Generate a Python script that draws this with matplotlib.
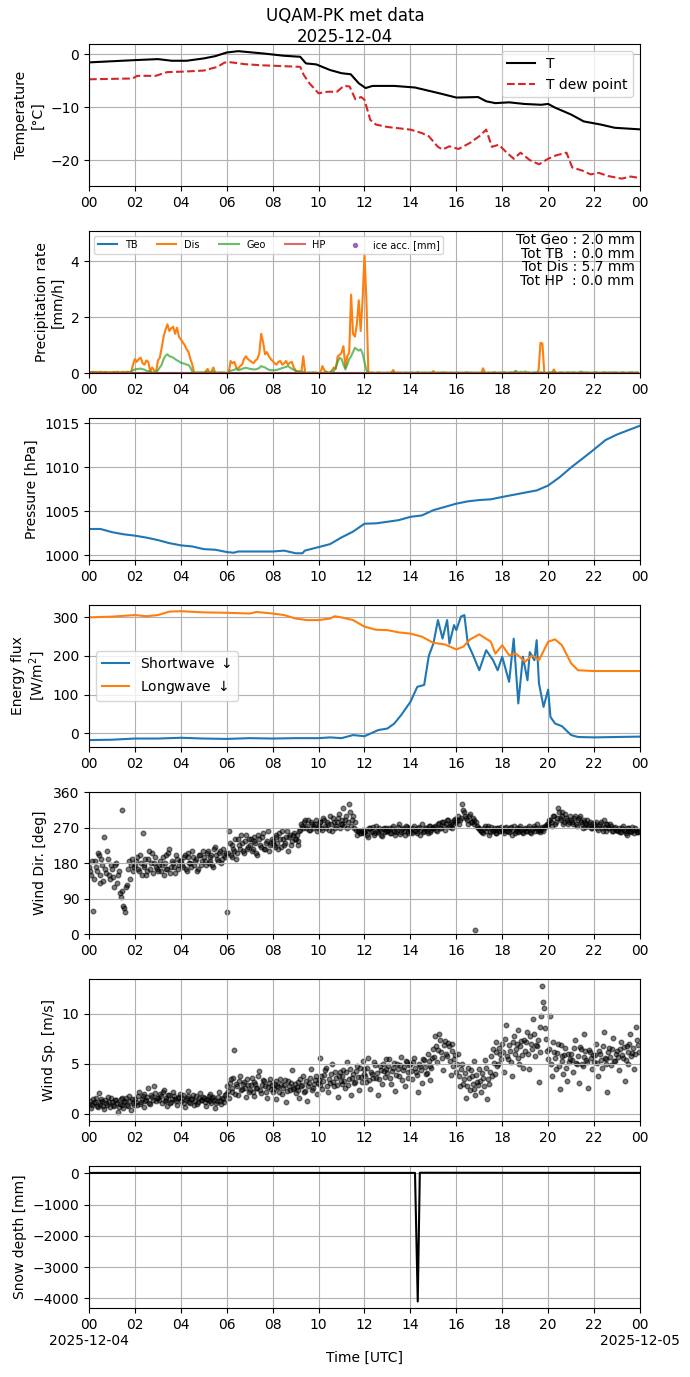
import numpy as np
import matplotlib.pyplot as plt

# ---- data (hours UTC on 2025-12-04) ----
t_temp = [0, 2, 3, 3.6, 4.25, 5, 5.5, 6, 6.5, 7.6, 8.5, 9.2, 9.45, 9.9, 10.5, 11, 11.4, 11.75,
          12.05, 12.35, 13.3, 14.2, 15.27, 16.0, 16.95, 17.3, 17.7, 18.3, 18.95, 19.7, 20.0,
          20.3, 21.0, 21.55, 22.3, 22.9, 24]
temp = [-1.56, -1.13, -0.94, -1.25, -1.25, -0.81, -0.38, 0.31, 0.56, 0.12, -0.31, -0.5, -1.75,
        -1.94, -3.0, -3.6, -3.8, -5.5, -6.4, -6.0, -6.0, -6.3, -7.4, -8.2, -8.1, -8.9, -9.25,
        -9.1, -9.4, -9.56, -9.4, -10.1, -11.4, -12.7, -13.3, -13.9, -14.2]

t_dew = [0, 1.9, 2.1, 2.9, 3.4, 4.1, 5, 5.6, 5.9, 6.1, 6.8, 7.5, 9.2, 9.35, 9.6, 10.0, 10.4,
         10.8, 11.1, 11.35, 11.6, 11.85, 12.0, 12.25, 12.5, 13.0, 14.0, 14.5, 14.8, 15.2, 15.4,
         15.7, 16.1, 16.6, 17.0, 17.3, 17.55, 17.85, 18.2, 18.5, 18.8, 19.2, 19.6, 20.0, 20.35,
         20.8, 21.05, 21.5, 21.85, 22.2, 22.6, 23.2, 23.6, 24]
dew = [-4.75, -4.6, -4.1, -4.1, -3.4, -3.3, -3.1, -2.4, -1.6, -1.5, -1.9, -2.1, -2.4, -3.9,
       -5.5, -7.4, -7.1, -7.1, -6.0, -6.1, -8.5, -8.1, -8.6, -12.4, -13.3, -13.75, -14.25,
       -14.9, -15.5, -17.5, -18.0, -17.4, -17.9, -16.75, -15.5, -14.25, -17.5, -17.1, -18.6,
       -19.75, -18.6, -20.0, -20.8, -19.75, -19.1, -18.6, -21.4, -22.0, -22.7, -22.4, -23.0,
       -23.5, -23.1, -23.4]

# precipitation rate, 5-minute values, one row per hour
dis_rate = [
    0.02, 0.03, 0.05, 0.02, 0.04, 0.03, 0.05, 0.02, 0.03, 0.04, 0.02, 0.03,
    0.02, 0.04, 0.03, 0.05, 0.02, 0.03, 0.04, 0.02, 0.05, 0.03, 0.02, 0.3,
    0.5, 0.4, 0.5, 0.55, 0.35, 0.3, 0.45, 0.4, 0.05, 0.2, 0.1, 0.0,
    0.45, 0.55, 0.9, 1.3, 1.55, 1.74, 1.5, 1.6, 1.65, 1.4, 1.62, 1.3,
    1.2, 1.1, 1.0, 0.85, 0.75, 0.5, 0.3, 0.0, 0.02, 0.01, 0.02, 0.01,
    0.0, 0.05, 0.15, 0.0, 0.05, 0.2, 0.0, 0.01, 0.0, 0.02, 0.0, 0.01,
    0.0, 0.0, 0.43, 0.35, 0.4, 0.2, 0.15, 0.25, 0.3, 0.5, 0.6, 0.5,
    0.45, 0.4, 0.35, 0.45, 0.5, 0.7, 1.4, 1.1, 0.67, 0.75, 0.6, 0.5,
    0.43, 0.35, 0.3, 0.4, 0.43, 0.3, 0.35, 0.43, 0.3, 0.37, 0.4, 0.2,
    0.1, 0.05, 0.07, 0.02, 0.6, 0.0, 0.0, 0.01, 0.0, 0.02, 0.0, 0.01,
    0.0, 0.02, 0.25, 0.1, 0.05, 0.0, 0.0, 0.1, 0.2, 0.15, 0.6, 0.65,
    0.72, 0.96, 0.2, 0.6, 0.72, 2.8, 1.4, 1.3, 1.74, 2.6, 1.5, 2.6,
    4.24, 2.6, 0.05, 0.0, 0.01, 0.0, 0.0, 0.02, 0.0, 0.0, 0.01, 0.0,
    0.0, 0.0, 0.01, 0.11, 0.0, 0.0, 0.01, 0.0, 0.0, 0.0, 0.01, 0.0,
    0.0, 0.01, 0.0, 0.0, 0.02, 0.0, 0.0, 0.01, 0.0, 0.0, 0.0, 0.01,
    0.07, 0.0, 0.0, 0.01, 0.0, 0.0, 0.02, 0.0, 0.0, 0.01, 0.0, 0.0,
    0.0, 0.0, 0.01, 0.0, 0.0, 0.02, 0.0, 0.0, 0.01, 0.0, 0.0, 0.0,
    0.0, 0.0, 0.17, 0.0, 0.0, 0.01, 0.0, 0.0, 0.02, 0.0, 0.0, 0.01,
    0.0, 0.01, 0.0, 0.0, 0.02, 0.0, 0.0, 0.07, 0.0, 0.01, 0.0, 0.0,
    0.0, 0.0, 0.01, 0.0, 0.0, 0.0, 0.0, 0.1, 1.08, 1.05, 0.0, 0.0,
    0.0, 0.01, 0.0, 0.13, 0.0, 0.0, 0.01, 0.0, 0.0, 0.0, 0.02, 0.0,
    0.0, 0.0, 0.01, 0.0, 0.0, 0.02, 0.0, 0.0, 0.0, 0.01, 0.0, 0.0,
    0.0, 0.01, 0.0, 0.0, 0.0, 0.0, 0.02, 0.0, 0.0, 0.0, 0.01, 0.0,
    0.0, 0.0, 0.0, 0.01, 0.0, 0.0, 0.0, 0.0, 0.02, 0.0, 0.0, 0.0,
]
geo_rate = [
    0.02, 0.01, 0.02, 0.03, 0.02, 0.01, 0.02, 0.02, 0.03, 0.02, 0.01, 0.02,
    0.02, 0.03, 0.02, 0.02, 0.01, 0.02, 0.03, 0.02, 0.02, 0.03, 0.05, 0.1,
    0.13, 0.14, 0.15, 0.16, 0.14, 0.12, 0.08, 0.07, 0.05, 0.03, 0.02, 0.02,
    0.1, 0.2, 0.3, 0.5, 0.62, 0.67, 0.6, 0.58, 0.55, 0.5, 0.45, 0.42,
    0.37, 0.35, 0.33, 0.3, 0.29, 0.2, 0.05, 0.0, 0.01, 0.02, 0.01, 0.02,
    0.02, 0.05, 0.04, 0.02, 0.03, 0.05, 0.02, 0.01, 0.02, 0.01, 0.02, 0.01,
    0.0, 0.02, 0.08, 0.1, 0.12, 0.15, 0.1, 0.12, 0.15, 0.17, 0.19, 0.17,
    0.15, 0.14, 0.13, 0.13, 0.15, 0.18, 0.25, 0.22, 0.2, 0.15, 0.12, 0.1,
    0.1, 0.1, 0.11, 0.13, 0.15, 0.18, 0.2, 0.22, 0.25, 0.2, 0.15, 0.12,
    0.07, 0.05, 0.05, 0.03, 0.05, 0.0, 0.01, 0.02, 0.01, 0.01, 0.02, 0.01,
    0.0, 0.0, 0.0, 0.02, 0.03, 0.02, 0.03, 0.05, 0.07, 0.2, 0.4, 0.55,
    0.5, 0.3, 0.13, 0.3, 0.5, 0.6, 0.75, 0.9, 0.85, 0.8, 0.85, 0.7,
    0.4, 0.1, 0.0, 0.01, 0.02, 0.01, 0.0, 0.01, 0.02, 0.01, 0.0, 0.01,
    0.02, 0.01, 0.02, 0.03, 0.01, 0.02, 0.01, 0.02, 0.01, 0.02, 0.01, 0.02,
    0.01, 0.02, 0.01, 0.02, 0.03, 0.01, 0.02, 0.01, 0.02, 0.01, 0.02, 0.01,
    0.02, 0.01, 0.02, 0.01, 0.02, 0.03, 0.01, 0.02, 0.01, 0.02, 0.01, 0.02,
    0.01, 0.02, 0.01, 0.02, 0.01, 0.02, 0.03, 0.01, 0.02, 0.01, 0.02, 0.01,
    0.02, 0.01, 0.03, 0.02, 0.01, 0.02, 0.01, 0.02, 0.03, 0.01, 0.02, 0.01,
    0.02, 0.03, 0.02, 0.01, 0.02, 0.03, 0.02, 0.07, 0.03, 0.02, 0.05, 0.02,
    0.06, 0.03, 0.02, 0.01, 0.02, 0.03, 0.02, 0.01, 0.03, 0.02, 0.02, 0.01,
    0.02, 0.03, 0.02, 0.03, 0.02, 0.01, 0.02, 0.03, 0.02, 0.01, 0.02, 0.03,
    0.02, 0.03, 0.02, 0.01, 0.02, 0.05, 0.04, 0.02, 0.03, 0.02, 0.01, 0.02,
    0.02, 0.03, 0.02, 0.01, 0.02, 0.03, 0.02, 0.01, 0.03, 0.02, 0.02, 0.03,
    0.02, 0.01, 0.02, 0.03, 0.02, 0.01, 0.02, 0.03, 0.02, 0.01, 0.03, 0.02,
]
tot_geo, tot_tb, tot_dis, tot_hp = 2.0, 0.0, 5.7, 0.0

t_pres = [0, 0.5, 1, 1.5, 2, 2.5, 3, 3.5, 4, 4.5, 5, 5.5, 6, 6.3, 6.5, 7, 8, 8.5, 9, 9.3, 9.4,
          10, 10.5, 11, 11.5, 12, 12.5, 13, 13.5, 14, 14.5, 15, 15.5, 16, 16.5, 17, 17.5, 18,
          18.5, 19, 19.5, 20, 20.5, 21, 21.5, 22, 22.5, 23, 23.5, 24]
pres = [1002.96, 1002.96, 1002.6, 1002.36, 1002.2, 1001.98, 1001.7, 1001.35, 1001.1, 1000.97,
        1000.67, 1000.6, 1000.34, 1000.26, 1000.4, 1000.4, 1000.4, 1000.5, 1000.2, 1000.2,
        1000.5, 1000.9, 1001.24, 1002.0, 1002.66, 1003.56, 1003.6, 1003.78, 1003.97, 1004.34,
        1004.5, 1005.1, 1005.47, 1005.84, 1006.1, 1006.25, 1006.33, 1006.6, 1006.85, 1007.1,
        1007.34, 1007.9, 1008.84, 1009.96, 1010.97, 1012.0, 1013.07, 1013.7, 1014.2, 1014.7]

t_lw = [0, 1, 2, 2.5, 3, 3.5, 4, 5, 6, 7, 7.3, 8, 8.5, 9, 9.5, 10, 10.5, 10.7, 11, 11.5, 12,
        12.5, 13, 13.5, 14, 14.5, 15, 15.5, 16, 16.3, 16.6, 17, 17.5, 17.7, 18, 18.3, 18.6, 19,
        19.3, 19.6, 20, 20.3, 20.6, 21, 21.3, 22, 23, 24]
lw = [300, 302, 306, 303, 306, 315, 316, 313, 312, 310, 314, 310, 306, 297, 293, 293, 297, 303,
      300, 293, 276, 268, 267, 261, 258, 250, 234, 230, 217, 224, 243, 256, 237, 206, 228, 202,
      206, 185, 202, 189, 237, 243, 228, 181, 163, 161, 161, 161]

t_sw = [0, 1, 2, 3, 4, 5, 6, 7, 8, 9, 10, 10.5, 11, 11.5, 12, 12.3, 12.6, 13, 13.3, 13.6, 14,
        14.3, 14.6, 14.8, 15, 15.2, 15.4, 15.6, 15.7, 15.9, 16, 16.2, 16.35, 16.5, 16.7, 17,
        17.3, 17.6, 17.8, 18, 18.3, 18.5, 18.7, 18.9, 19.1, 19.2, 19.4, 19.5, 19.6, 19.8, 20,
        20.1, 20.3, 20.6, 21, 21.3, 22, 23, 24]
sw = [-18, -17, -14, -14, -12, -14, -15, -13, -14, -13, -13, -11, -13, -5, -8, 0, 8, 12, 25, 47,
      81, 120, 125, 200, 232, 293, 245, 293, 232, 280, 267, 302, 306, 232, 206, 163, 215, 189,
      163, 198, 133, 245, 77, 198, 137, 210, 189, 241, 129, 68, 113, 42, 25, 18, -5, -10, -11,
      -10, -9]

# wind, 5-minute values (one row per hour), plus a second set offset by 2.5 minutes
wind_dir = [
    170, 150, 58, 185, 160, 200, 130, 175, 245, 155, 190, 140,
    165, 120, 180, 150, 105, 315, 70, 55, 125, 185, 175, 160,
    175, 195, 160, 180, 255, 170, 150, 190, 165, 205, 180, 170,
    160, 185, 175, 150, 200, 165, 215, 170, 180, 155, 190, 175,
    185, 170, 200, 160, 195, 180, 210, 175, 190, 165, 200, 185,
    195, 175, 210, 185, 200, 170, 220, 190, 205, 180, 215, 195,
    57, 260, 200, 225, 210, 190, 240, 215, 230, 205, 250, 220,
    225, 210, 245, 230, 200, 240, 220, 255, 215, 235, 210, 230,
    235, 220, 250, 215, 240, 260, 225, 245, 210, 250, 235, 255,
    240, 225, 260, 280, 270, 290, 275, 265, 285, 270, 280, 260,
    275, 285, 265, 290, 270, 280, 300, 260, 285, 275, 295, 270,
    280, 320, 290, 270, 330, 275, 300, 285, 250, 260, 255, 265,
    255, 265, 245, 270, 260, 250, 275, 258, 265, 248, 270, 262,
    260, 270, 255, 275, 250, 265, 280, 258, 268, 252, 272, 262,
    265, 255, 275, 260, 270, 250, 280, 262, 268, 256, 275, 265,
    268, 275, 260, 282, 270, 285, 265, 290, 275, 280, 270, 288,
    285, 300, 290, 330, 310, 295, 280, 305, 285, 290, 10, 275,
    270, 262, 255, 275, 268, 250, 272, 260, 265, 255, 270, 262,
    265, 255, 272, 260, 268, 250, 275, 262, 258, 270, 264, 256,
    268, 260, 275, 255, 270, 262, 278, 265, 258, 272, 268, 275,
    280, 290, 275, 300, 285, 320, 295, 310, 280, 305, 290, 285,
    290, 280, 300, 275, 295, 285, 270, 290, 280, 275, 285, 270,
    275, 285, 265, 280, 270, 290, 262, 278, 268, 275, 260, 272,
    265, 270, 258, 275, 262, 250, 268, 260, 272, 255, 265, 258,
]
wind_dir_b = [
    160, 185, 140, 170, 205, 150, 190, 135, 165, 210, 150, 175,
    145, 175, 130, 160, 95, 110, 65, 120, 165, 140, 190, 170,
    185, 165, 200, 150, 175, 190, 160, 210, 180, 155, 195, 165,
    175, 160, 195, 180, 165, 205, 155, 185, 170, 200, 165, 185,
    175, 195, 165, 205, 180, 170, 195, 185, 160, 200, 175, 210,
    185, 205, 180, 195, 175, 215, 200, 185, 210, 190, 200, 205,
    205, 230, 195, 215, 240, 205, 225, 250, 210, 235, 215, 240,
    240, 215, 235, 205, 250, 225, 245, 215, 230, 260, 225, 240,
    225, 245, 230, 255, 220, 240, 230, 260, 245, 225, 250, 240,
    250, 235, 265, 275, 285, 270, 290, 265, 280, 275, 290, 270,
    285, 270, 295, 275, 285, 265, 280, 295, 270, 285, 305, 280,
    290, 275, 300, 285, 310, 290, 270, 265, 260, 255, 262, 258,
    262, 250, 268, 258, 272, 255, 262, 270, 252, 266, 258, 270,
    265, 255, 270, 262, 258, 272, 254, 266, 260, 275, 256, 268,
    258, 270, 262, 255, 272, 265, 258, 270, 262, 275, 258, 268,
    272, 265, 278, 270, 285, 275, 280, 290, 272, 285, 278, 292,
    290, 280, 295, 315, 300, 290, 300, 285, 295, 280, 285, 270,
    265, 258, 270, 262, 275, 258, 265, 270, 255, 268, 260, 272,
    260, 270, 262, 258, 272, 265, 255, 268, 262, 275, 258, 266,
    262, 270, 258, 265, 275, 268, 260, 270, 264, 262, 275, 280,
    290, 285, 300, 280, 295, 310, 290, 300, 285, 295, 280, 300,
    285, 295, 278, 290, 300, 280, 285, 272, 290, 280, 268, 282,
    280, 268, 275, 285, 262, 272, 280, 268, 278, 262, 270, 265,
    262, 258, 270, 265, 255, 268, 262, 258, 265, 270, 258, 262,
]
wind_spd = [
    1.0, 0.6, 1.5, 1.2, 0.8, 2.1, 0.9, 1.3, 0.5, 1.1, 1.7, 0.7,
    1.2, 0.8, 1.4, 0.2, 1.0, 1.6, 0.6, 1.3, 0.9, 1.8, 0.4, 1.1,
    1.5, 0.9, 2.2, 1.2, 1.8, 0.7, 1.4, 2.6, 1.0, 1.7, 2.8, 1.3,
    1.6, 2.0, 1.1, 2.4, 1.4, 0.8, 1.9, 1.2, 2.2, 1.5, 0.9, 1.7,
    1.3, 1.9, 0.7, 1.6, 2.3, 1.1, 1.5, 0.9, 1.8, 1.2, 2.1, 1.4,
    1.6, 0.8, 1.4, 2.0, 1.1, 1.7, 0.6, 1.3, 2.2, 1.0, 1.5, 1.9,
    2.8, 1.6, 3.5, 2.2, 6.4, 3.0, 1.9, 3.8, 2.5, 3.2, 1.7, 2.9,
    2.4, 3.6, 1.8, 3.0, 2.6, 4.3, 2.1, 3.4, 2.8, 1.6, 3.1, 2.5,
    2.2, 3.0, 1.5, 2.7, 3.5, 2.0, 2.9, 1.2, 3.3, 2.4, 4.4, 2.6,
    2.1, 3.2, 1.6, 2.8, 3.8, 2.3, 1.3, 3.1, 4.5, 2.6, 3.4, 2.0,
    3.4, 5.6, 2.5, 3.9, 4.6, 2.2, 3.1, 5.0, 2.8, 3.6, 1.7, 4.2,
    3.0, 4.4, 2.6, 5.2, 3.5, 1.9, 4.0, 3.2, 4.8, 2.4, 3.7, 5.3,
    4.5, 3.2, 5.6, 2.5, 4.0, 5.2, 3.6, 1.9, 4.8, 3.0, 4.3, 5.5,
    4.1, 5.5, 3.0, 4.6, 2.3, 5.0, 3.8, 5.7, 4.4, 2.8, 5.2, 3.6,
    5.0, 3.5, 5.6, 4.2, 2.2, 4.8, 3.1, 5.4, 4.0, 6.0, 3.4, 4.6,
    6.5, 7.8, 5.2, 8.0, 6.2, 4.4, 7.3, 5.8, 6.8, 3.9, 7.0, 5.5,
    4.2, 6.0, 2.8, 5.0, 3.5, 1.6, 4.6, 2.4, 3.8, 5.3, 1.9, 3.2,
    4.5, 2.2, 3.6, 5.4, 1.5, 3.0, 5.8, 6.5, 4.0, 7.2, 5.0, 6.0,
    7.0, 4.2, 8.9, 5.5, 6.3, 3.8, 7.8, 6.5, 8.4, 5.0, 7.3, 4.6,
    6.3, 8.2, 4.5, 7.0, 9.5, 5.8, 6.8, 3.2, 8.7, 12.8, 10.6, 7.5,
    5.5, 9.8, 3.8, 6.2, 4.5, 7.0, 2.5, 5.8, 4.0, 6.6, 3.3, 5.2,
    6.0, 4.2, 7.4, 5.0, 3.1, 6.5, 4.8, 8.0, 5.4, 2.6, 6.2, 4.5,
    5.2, 7.0, 3.8, 6.0, 4.6, 8.2, 5.5, 2.2, 6.6, 4.9, 7.6, 5.3,
    6.3, 4.4, 7.2, 5.6, 3.3, 6.8, 5.0, 8.0, 6.1, 4.5, 8.7, 6.9,
]
wind_spd_b = [
    1.3, 0.9, 1.1, 1.6, 0.7, 1.2, 1.5, 0.8, 1.4, 0.9, 1.2, 1.6,
    0.9, 1.4, 1.1, 0.7, 1.5, 0.9, 1.2, 1.6, 0.8, 1.3, 1.5, 0.9,
    1.2, 1.8, 1.0, 1.5, 2.0, 1.3, 1.7, 1.1, 1.9, 1.4, 2.1, 1.6,
    1.4, 1.8, 2.2, 1.3, 1.6, 1.9, 1.1, 1.5, 1.8, 1.3, 1.6, 2.0,
    1.6, 1.1, 1.4, 1.8, 1.2, 1.5, 1.9, 1.3, 1.0, 1.6, 1.4, 1.7,
    1.2, 1.5, 1.8, 1.3, 1.6, 1.4, 1.1, 1.7, 1.3, 1.6, 1.2, 2.0,
    2.3, 3.1, 2.6, 3.6, 2.0, 2.8, 3.3, 2.4, 3.0, 2.6, 3.5, 2.2,
    2.9, 2.2, 3.2, 2.6, 3.8, 2.4, 2.9, 3.3, 2.2, 2.7, 3.5, 2.9,
    2.5, 3.3, 2.8, 2.2, 3.0, 2.6, 3.4, 2.3, 2.8, 3.1, 2.5, 3.0,
    2.7, 2.4, 3.5, 2.9, 2.2, 3.3, 2.8, 3.6, 2.4, 3.0, 3.8, 3.1,
    2.9, 3.8, 3.3, 4.4, 2.8, 3.5, 4.0, 3.2, 4.2, 2.9, 3.8, 3.3,
    3.8, 3.3, 4.2, 2.9, 4.5, 3.6, 3.1, 4.3, 3.7, 4.6, 3.2, 4.0,
    3.8, 4.6, 3.4, 4.2, 3.6, 4.9, 4.1, 3.5, 4.4, 5.0, 3.7, 4.5,
    4.8, 3.6, 4.3, 5.1, 3.9, 4.5, 4.9, 3.4, 4.7, 5.3, 4.2, 4.9,
    4.3, 5.2, 4.6, 3.9, 5.0, 4.4, 5.5, 4.7, 4.1, 5.3, 4.8, 5.6,
    5.7, 6.8, 6.4, 7.4, 5.6, 6.9, 6.0, 7.1, 5.3, 6.3, 4.8, 5.9,
    5.0, 3.8, 4.5, 3.0, 4.1, 2.8, 3.6, 4.4, 3.0, 2.5, 3.9, 2.9,
    3.3, 4.1, 2.8, 4.6, 3.5, 4.2, 3.8, 5.1, 6.2, 4.8, 6.6, 5.5,
    6.2, 7.5, 5.8, 6.9, 5.2, 7.2, 6.0, 7.0, 5.6, 6.8, 5.9, 7.4,
    7.2, 6.0, 7.8, 6.5, 8.0, 6.9, 7.4, 6.2, 9.8, 11.2, 8.6, 6.3,
    6.5, 5.0, 7.2, 5.6, 6.1, 4.8, 6.9, 5.3, 5.9, 4.6, 6.0, 5.5,
    5.4, 6.6, 5.1, 5.8, 6.7, 5.0, 5.7, 6.3, 5.2, 6.4, 5.6, 5.9,
    5.9, 5.1, 6.3, 5.4, 6.8, 5.6, 5.0, 6.2, 5.7, 6.5, 5.3, 6.0,
    5.7, 6.5, 5.9, 6.7, 5.4, 6.2, 7.0, 5.8, 6.6, 6.0, 7.4, 6.2,
]

t_snow = [0, 14.2, 14.32, 14.41, 24]
snow = [15, 15, -4100, 20, 15]

hour_ticks = list(range(0, 25, 2))
hour_labels = ['%02d' % (h % 24) for h in hour_ticks]
date_labels = ['2025-12-04', '2025-12-05']

t5 = np.arange(len(dis_rate)) * 5 / 60.0
t5b = t5 + 2.5 / 60.0

# ---- figure ----
fig, axes = plt.subplots(7, 1, figsize=(6.9, 13.77), dpi=100)
fig.subplots_adjust(left=0.129, right=0.9275, top=0.968, bottom=0.0501, hspace=0.317)
fig.suptitle('UQAM-PK met data\n2025-12-04', fontsize=12, y=0.995)

ax = axes[0]
ax.plot(t_temp, temp, color='k', label='T')
ax.plot(t_dew, dew, color='tab:red', ls='--', label='T dew point')
ax.set_ylabel('Temperature\n[°C]')
ax.set_ylim(-24.9, 1.9)
ax.legend(loc='upper right')

ax = axes[1]
ax.plot(t5, np.zeros(len(t5)), color='tab:blue', label='TB')
ax.plot(t5, dis_rate, color='tab:orange', label='Dis')
ax.plot(t5, geo_rate, color='tab:green', alpha=0.7, label='Geo')
ax.plot(t5, np.zeros(len(t5)), color='tab:red', alpha=0.7, label='HP')
ax.scatter([], [], color='tab:purple', s=8, label='ice acc. [mm]')
ax.set_ylabel('Precipitation rate\n[mm/h]')
ax.set_ylim(0, 5.07)
ax.legend(loc='upper left', ncol=5, fontsize=7)
ax.text(0.99, 0.985,
        'Tot Geo : %.1f mm\nTot TB  : %.1f mm\nTot Dis : %.1f mm\nTot HP  : %.1f mm'
        % (tot_geo, tot_tb, tot_dis, tot_hp),
        transform=ax.transAxes, ha='right', va='top', fontsize=10, linespacing=0.95)

ax = axes[2]
ax.plot(t_pres, pres, color='tab:blue')
ax.set_ylabel('Pressure [hPa]')
ax.set_ylim(999.43, 1015.57)

ax = axes[3]
ax.plot(t_sw, sw, color='tab:blue', label='Shortwave $\\downarrow$')
ax.plot(t_lw, lw, color='tab:orange', label='Longwave $\\downarrow$')
ax.set_ylabel('Energy flux\n[W/m$^2$]')
ax.set_ylim(-36, 332)
ax.legend(loc='center left')

ax = axes[4]
ax.scatter(t5, wind_dir, color='k', alpha=0.5, s=11)
ax.scatter(t5b, wind_dir_b, color='k', alpha=0.5, s=11)
ax.set_ylabel('Wind Dir. [deg]')
ax.set_ylim(0, 360)
ax.set_yticks([0, 90, 180, 270, 360])

ax = axes[5]
ax.scatter(t5, wind_spd, color='k', alpha=0.5, s=11)
ax.scatter(t5b, wind_spd_b, color='k', alpha=0.5, s=11)
ax.set_ylabel('Wind Sp. [m/s]')
ax.set_ylim(-0.7, 13.45)

ax = axes[6]
ax.plot(t_snow, snow, color='k')
ax.set_ylabel('Snow depth [mm]')
ax.set_ylim(-4310, 235)
ax.set_xlabel('Time [UTC]', labelpad=14)

for ax in axes:
    ax.set_xlim(0, 24)
    ax.set_xticks(hour_ticks)
    ax.set_xticklabels(hour_labels)
    ax.grid(True)

# date under first and last tick of the bottom panel
ax = axes[6]
for xpos, lab in zip([0, 24], date_labels):
    ax.annotate(lab, xy=(xpos, 0), xycoords=('data', 'axes fraction'),
                xytext=(0, -19), textcoords='offset points', ha='center', va='top',
                fontsize=10, annotation_clip=False)

fig.savefig('out.png', dpi=100)
